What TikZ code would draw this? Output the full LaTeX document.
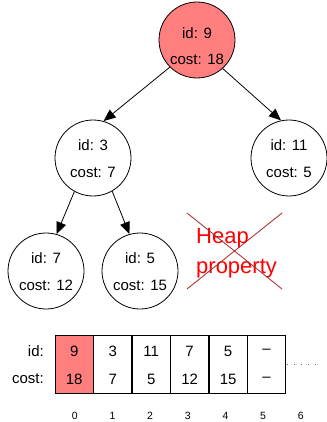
\documentclass[tikz,border=0pt]{standalone}
\usepackage{fontspec}
\setmainfont{Liberation Sans}
\usetikzlibrary{arrows.meta,calc}
\definecolor{rootfill}{HTML}{FF7F7F}
\definecolor{crossred}{HTML}{A52A2A}
\begin{document}
\begin{tikzpicture}[x=1pt,y=-1pt,
  heapnode/.style={circle,draw=black,line width=0.8pt,minimum size=76pt,inner sep=0pt},
  txt/.style={inner sep=0pt,font=\fontsize{15}{18}\selectfont},
  small/.style={inner sep=0pt,font=\fontsize{10.5}{13}\selectfont},
  arr/.style={line width=0.8pt,-{Triangle[length=12pt,width=10pt]}},
  cell/.style={draw=black,line width=0.8pt,minimum width=37.67pt,minimum height=58pt,inner sep=0pt,anchor=north west}]
\useasboundingbox (0,0) rectangle (326,422);
% tree nodes
\node[heapnode,fill=rootfill] (r) at (197,40) {};
\node[txt] (rid) at (197,33) {id: 9};
\node[txt] (rc) at (197,59) {cost: 18};
\node[heapnode] (n3) at (93,158) {};
\node[txt] (n3id) at (93,145) {id: 3};
\node[txt] (n3c) at (93,172) {cost: 7};
\node[heapnode] (n11) at (289,158) {};
\node[txt] (n11id) at (289,145) {id: 11};
\node[txt] (n11c) at (289,172) {cost: 5};
\node[heapnode] (n7) at (46,271) {};
\node[txt] (n7id) at (46,258) {id: 7};
\node[txt] (n7c) at (46,285) {cost: 12};
\node[heapnode] (n5) at (140,271) {};
\node[txt] (n5id) at (140,258) {id: 5};
\node[txt] (n5c) at (140,285) {cost: 15};
% edges
\draw[arr] (r.225) -- (n3.74);
\draw[arr] (r.312) -- (n11.102);
\draw[arr] (n3.241) -- (n7.74);
\draw[arr] (n3.300) -- (n5.106);
% heap property crossed out
\node[inner sep=0pt,anchor=base west,text=red,font=\fontsize{22}{26}\selectfont] (hp1) at (196,243) {Heap};
\node[inner sep=0pt,anchor=base west,text=red,font=\fontsize{22}{26}\selectfont] (hp2) at (196,273) {property};
\coordinate (c1) at (187,213);
\coordinate (c2) at (282,289);
\coordinate (c3) at (282,213);
\coordinate (c4) at (187,289);
\draw[crossred,line width=0.8pt] (c1) -- (c2);
\draw[crossred,line width=0.8pt] (c3) -- (c4);
% array
\node[cell,fill=rootfill] (a0) at (55,335) {};
\node[cell] (a1) at (a0.north east) {};
\node[cell] (a2) at (a1.north east) {};
\node[cell] (a3) at (a2.north east) {};
\node[cell] (a4) at (a3.north east) {};
\node[cell] (a5) at (a4.north east) {};
\node[txt,anchor=east] (lid) at (44,351) {id:};
\node[txt,anchor=east] (lcost) at (44,379) {cost:};
\foreach \i/\a/\b in {0/9/18,1/3/7,2/11/5,3/7/12,4/5/15,5/--/--}{
  \node[txt] (v\i) at ($(a\i.north)+(0,16)$) {\a};
  \node[txt] (w\i) at ($(a\i.north)+(0,44)$) {\b};
}
\foreach \i in {0,...,6}{
  \node[small] (idx\i) at (74.8+37.67*\i,416) {\i};
}
\coordinate (d1) at (287,364);
\coordinate (d2) at (318,364);
\draw[black!60,line width=0.8pt,dash pattern=on 1pt off 6pt] (d1) -- (d2);
\end{tikzpicture}
\end{document}
